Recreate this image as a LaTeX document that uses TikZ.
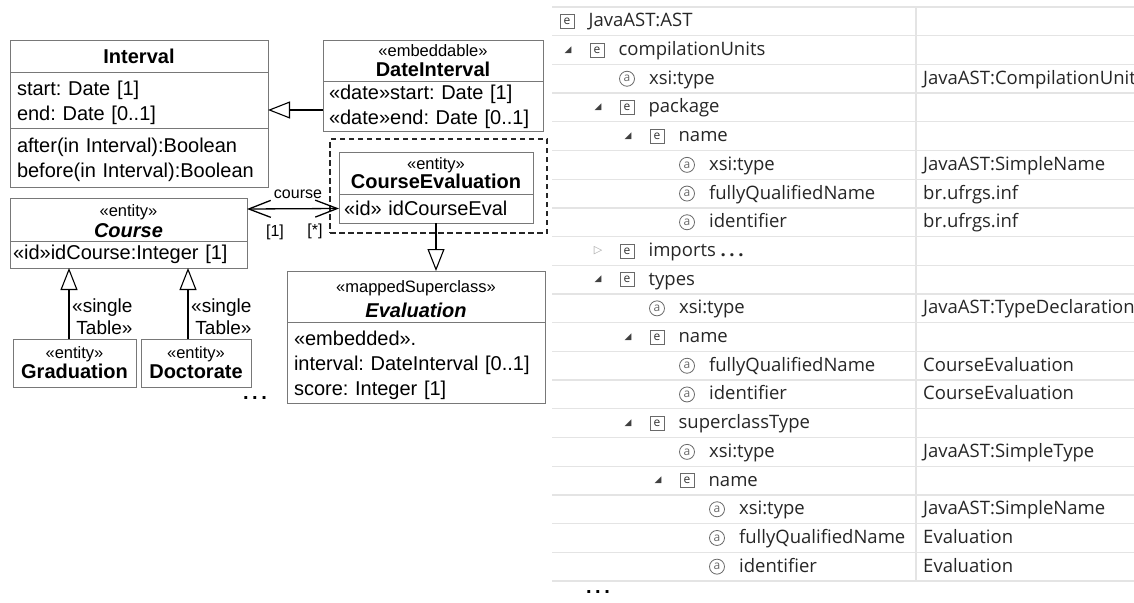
\documentclass[tikz,border=0pt]{standalone}
\usepackage{fontspec}
\setmainfont{Liberation Sans}
\newfontfamily\treefont{Open Sans}
\newfontfamily\glyphfont{DejaVu Sans}
\usetikzlibrary{arrows.meta, positioning, calc}
\frenchspacing

\definecolor{umlgray}{RGB}{120,120,120}
\definecolor{gridgray}{RGB}{228,228,228}
\definecolor{icongray}{RGB}{105,105,105}

\newcommand{\stereo}[1]{{\fontsize{16.5}{18}\selectfont«#1»}}
\newcommand{\lift}[1]{\rule{0pt}{#1}}
\newcommand{\moredots}{{\bfseries .\hspace{3.5pt}.\hspace{3.5pt}.}}

\tikzset{
  % UML class compartments
  compart/.style={draw=umlgray, line width=1pt, outer sep=0pt, inner xsep=7pt, inner ysep=0pt,
    anchor=north west, align=left, font=\fontsize{20}{25}\selectfont},
  titlecompart/.style={compart, align=center},
  embframe/.style={draw=black!85, line width=1.4pt, dash pattern=on 5.5pt off 3.5pt, outer sep=0pt, anchor=north west},
  genline/.style={line width=2.6pt, -{Triangle[open, length=22pt, width=17pt, line width=1.1pt]}},
  assocline/.style={line width=1.3pt, {Straight Barb[length=22pt, width=17pt]}-{Straight Barb[length=22pt, width=17pt]}},
  rolelabel/.style={font=\fontsize{16}{18}\selectfont, inner sep=1pt},
  stereolabel/.style={font=\fontsize{19}{22}\selectfont, align=right, inner sep=0pt, anchor=west},
  dotslabel/.style={font=\fontsize{20}{20}\selectfont, inner sep=0pt},
  % tree view
  gridline/.style={draw=gridgray, line width=1.3pt},
  treetext/.style={font=\treefont\fontsize{18.5}{20}\selectfont, text=black!85, inner sep=0pt,
    text height=14pt, text depth=3pt, anchor=west},
  icon-x/.style={draw=icongray, line width=0.8pt, minimum size=14pt, inner sep=0pt,
    font=\treefont\fontsize{12}{12}\selectfont, text=black!80, node contents=e},
  icon-r/.style={icon-x}, icon-c/.style={icon-x},
  icon-a/.style={circle, draw=icongray, line width=0.8pt, minimum size=15pt, inner sep=0pt,
    font=\treefont\fontsize{12}{12}\selectfont, text=icongray, node contents=a},
  twisty-x/.style={font=\glyphfont\fontsize{9}{9}\selectfont, text=black!75, inner sep=0pt, node contents=◢},
  twisty-c/.style={font=\glyphfont\fontsize{11}{11}\selectfont, text=black!35, inner sep=0pt, node contents=▷},
  twisty-r/.style={inner sep=0pt, node contents={}},
  twisty-a/.style={twisty-r},
}

\begin{document}
\begin{tikzpicture}[x=1pt, y=-1pt]
  \clip (0,0) rectangle (1134,602);

  % Interval
  \node[titlecompart, text width=244pt, minimum height=31pt] (interval-name) at (10,41) {\bfseries Interval};
  \node[compart, text width=244pt, minimum height=56pt, anchor=north] (interval-attr) at (interval-name.south) {\lift{21pt}start: Date [1]\\end: Date [0..1]};
  \node[compart, text width=244pt, minimum height=59pt, anchor=north] (interval-ops) at (interval-attr.south) {\lift{19pt}after(in Interval):Boolean\\before(in Interval):Boolean};

  % DateInterval
  \node[titlecompart, text width=206pt, minimum height=40pt] (dint-name) at (323,41) {\stereo{embeddable}\\[-5pt]\bfseries DateInterval};
  \node[compart, inner xsep=6pt, text width=208pt, minimum height=50pt, anchor=north] (dint-attr) at (dint-name.south) {\lift{16pt}«date»start: Date [1]\\«date»end: Date [0..1]};

  % CourseEvaluation with its dashed frame
  \node[embframe, minimum width=217pt, minimum height=94pt] (ceval-frame) at (330,139) {};
  \node[titlecompart, inner xsep=3pt, text width=188pt, minimum height=42pt] (ceval-name) at (339,152) {\stereo{entity}\\[-6pt]\bfseries CourseEvaluation};
  \node[compart, inner xsep=5pt, text width=184pt, minimum height=29pt, anchor=north] (ceval-attr) at (ceval-name.south) {«id» idCourseEval};

  % Course
  \node[titlecompart, text width=223pt, minimum height=43pt] (course-name) at (10,198) {\lift{15pt}\stereo{entity}\\[-4.5pt]\bfseries\itshape Course};
  \node[compart, inner xsep=3pt, text width=231pt, minimum height=27pt, anchor=north] (course-attr) at (course-name.south) {«id»idCourse:Integer [1]};

  % Evaluation
  \node[titlecompart, text width=244pt, minimum height=51pt] (eval-name) at (287,271) {\lift{17pt}\stereo{mappedSuperclass}\\\bfseries\itshape Evaluation};
  \node[compart, text width=244pt, minimum height=81pt, anchor=north] (eval-attr) at (eval-name.south) {\lift{21pt}«embedded».\\interval: DateInterval [0..1]\\score: Integer [1]};

  % Graduation, Doctorate
  \node[titlecompart, inner xsep=3pt, text width=117pt, minimum height=48pt] (grad) at (13,339) {\stereo{entity}\\[-5pt]\bfseries Graduation};
  \node[titlecompart, inner xsep=3pt, text width=104pt, minimum height=48pt] (doc) at (141,339) {\stereo{entity}\\[-5pt]\bfseries Doctorate};

  % generalizations
  \coordinate (di-gen) at ([yshift=-4pt]dint-attr.west);
  \draw[genline] (di-gen) -- (di-gen -| interval-attr.east);
  \draw[genline] (ceval-attr.south) -- (ceval-attr.south |- eval-name.north);
  \coordinate (grad-top) at ([xshift=-5.5pt]grad.north);
  \coordinate (doc-top) at ([xshift=-8pt]doc.north);
  \draw[genline] (grad-top) -- (grad-top |- course-attr.south);
  \draw[genline] (doc-top) -- (doc-top |- course-attr.south);
  \node[stereolabel] (grad-lbl) at ($(grad-top)+(3,-22)$) {«single\\Table»};
  \node[stereolabel] (doc-lbl) at ($(doc-top)+(3,-22)$) {«single\\Table»};

  % association course
  \draw[assocline] ([yshift=-11pt]course-name.north east) -- (ceval-attr.west);
  \node[rolelabel] (role-name) at ($(ceval-attr.west)+(-41,-14)$) {course};
  \node[rolelabel] (role-one) at ($(course-name.north east)+(28,34)$) {[1]};
  \node[rolelabel] (role-many) at ($(ceval-attr.west)+(-24,23)$) {[*]};

  \node[dotslabel] (uml-more) at (255,398) {\moredots};

  % tree view of the Java model
  \foreach \k in {0,...,20}
    \draw[gridline] (552,{7+28.7*\k}) -- (1134,{7+28.7*\k});
  \draw[gridline] (916,7) -- (916,581);

  \foreach \rw/\dep/\kind/\lab/\val in {
      1/0/r/JavaAST:AST/{},
      2/1/x/compilationUnits/{},
      3/2/a/xsi:type/JavaAST:CompilationUnit,
      4/2/x/package/{},
      5/3/x/name/{},
      6/4/a/xsi:type/JavaAST:SimpleName,
      7/4/a/fullyQualifiedName/br.ufrgs.inf,
      8/4/a/identifier/br.ufrgs.inf,
      9/2/c/imports \moredots/{},
      10/2/x/types/{},
      11/3/a/xsi:type/JavaAST:TypeDeclaration,
      12/3/x/name/{},
      13/4/a/fullyQualifiedName/CourseEvaluation,
      14/4/a/identifier/CourseEvaluation,
      15/3/x/superclassType/{},
      16/4/a/xsi:type/JavaAST:SimpleType,
      17/4/x/name/{},
      18/5/a/xsi:type/JavaAST:SimpleName,
      19/5/a/fullyQualifiedName/Evaluation,
      20/5/a/identifier/Evaluation}{
    \pgfmathsetmacro{\ry}{21.35+28.7*(\rw-1)}
    \pgfmathsetmacro{\ix}{567+30*\dep}
    \node (tw-\rw) at ({\ix-29},\ry) [twisty-\kind];
    \node (ic-\rw) at (\ix,\ry) [icon-\kind];
    \node[treetext, right=14pt of ic-\rw] (lab-\rw) {\lab};
    \node[treetext] (val-\rw) at (923,\ry) {\val};
  }
  \node[dotslabel] (tree-more) at (598,592) {\moredots};
\end{tikzpicture}
\end{document}
